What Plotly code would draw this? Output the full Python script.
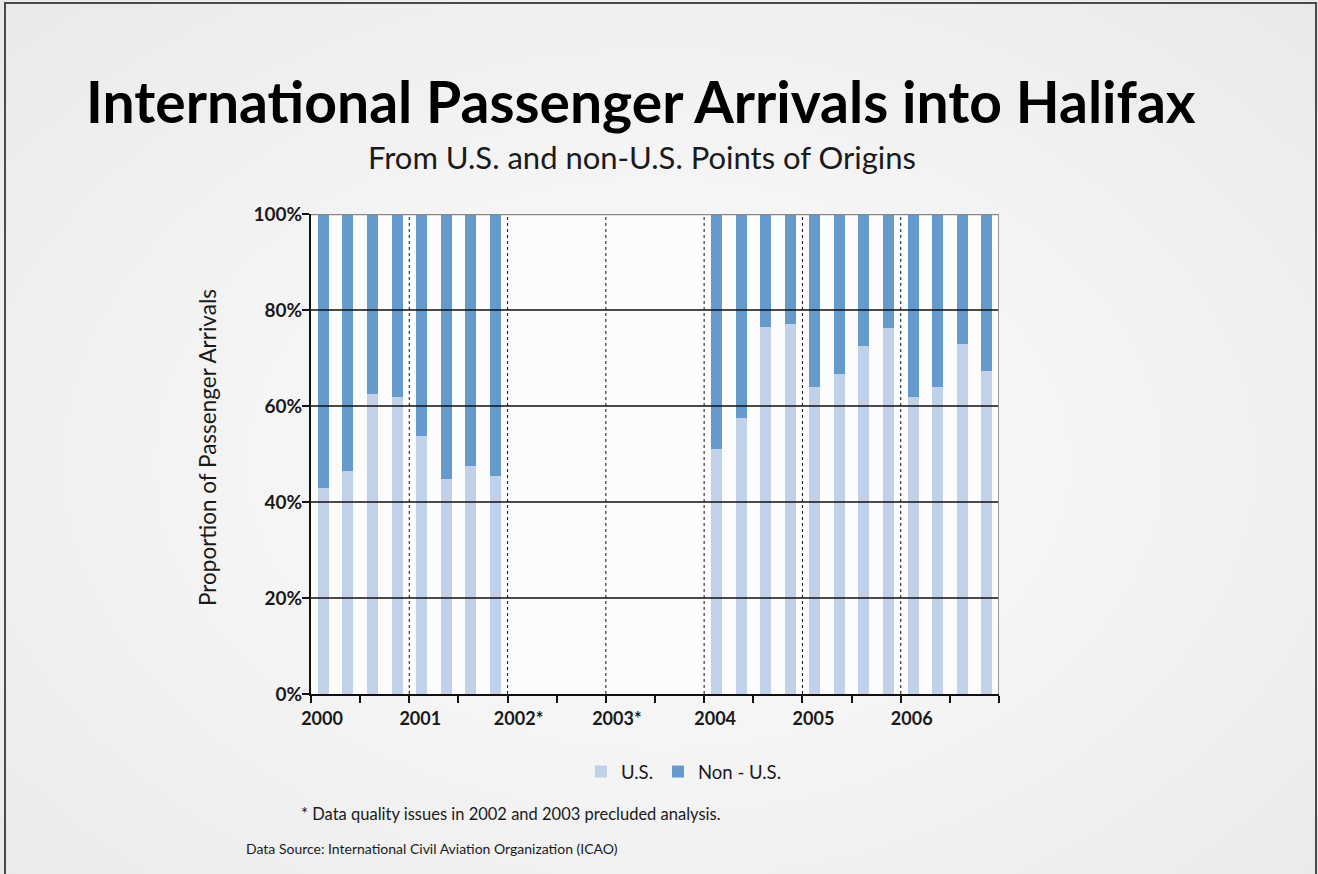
import plotly.graph_objects as go

# Quarterly share of international arrivals into Halifax (percent)
years = [2000, 2001, 2004, 2005, 2006]
quarters = [1, 2, 3, 4]
us_share = [
    [43.0, 46.5, 62.5, 61.9],   # 2000
    [53.7, 44.8, 47.5, 45.4],   # 2001
    [51.1, 57.6, 76.4, 77.0],   # 2004
    [63.9, 66.6, 72.5, 76.2],   # 2005
    [61.8, 63.9, 72.9, 67.2],   # 2006
]
tick_years = [2000, 2001, 2002, 2003, 2004, 2005, 2006, 2007]
tick_labels = ["2000", "2001", "2002*", "2003*", "2004", "2005", "2006", ""]
pct_ticks = [0, 20, 40, 60, 80, 100]

# place each quarter in the middle of its slice of the year
x_pos, us_vals, non_us_vals = [], [], []
for yr, row in zip(years, us_share):
    for q, v in zip(quarters, row):
        x_pos.append(yr + (q - 0.5) / 4)
        us_vals.append(v)
        non_us_vals.append(100 - v)

US_COLOR = "#c1d1ea"
NON_US_COLOR = "#6699cc"
FONT = "Lato"
W, H = 1318, 874

fig = go.Figure()
fig.add_trace(go.Bar(x=x_pos, y=us_vals, name="U.S.", marker_color=US_COLOR,
                     marker_line_width=0, width=0.112))
fig.add_trace(go.Bar(x=x_pos, y=non_us_vals, name="Non - U.S.", marker_color=NON_US_COLOR,
                     marker_line_width=0, width=0.112))

shapes = []
# soft radial lightening of the page background
n_rings = 14
for i in range(n_rings):
    r = 0.70 - i * 0.035
    cx, cy = 0.5, 0.47
    shapes.append(dict(type="circle", xref="paper", yref="paper",
                       x0=cx - r, x1=cx + r, y0=cy - r * 1.05, y1=cy + r * 1.05,
                       fillcolor="rgba(255,255,255,0.09)", line_width=0, layer="below"))
# page frame
shapes.append(dict(type="rect", xref="paper", yref="paper",
                   x0=5 / W, x1=1316 / W, y0=-0.05, y1=1 - 3 / H,
                   line=dict(color="#4a4a4a", width=2), fillcolor="rgba(0,0,0,0)", layer="above"))
# horizontal gridlines over the bars
for v in pct_ticks[1:-1]:
    shapes.append(dict(type="line", xref="x domain", yref="y", x0=0, x1=1, y0=v, y1=v,
                       line=dict(color="#111111", width=1.6), layer="above"))
# dotted year separators
for yr in tick_years[1:-1]:
    shapes.append(dict(type="line", xref="x", yref="y domain", x0=yr, x1=yr, y0=0, y1=1,
                       line=dict(color="#111111", width=1, dash="dot"), layer="above"))
# grey top and right frame of the plot area
shapes.append(dict(type="line", xref="x domain", yref="y", x0=0, x1=1, y0=100, y1=100,
                   line=dict(color="#888888", width=2.5), layer="above"))
shapes.append(dict(type="line", xref="x", yref="y domain", x0=2007, x1=2007, y0=0, y1=1,
                   line=dict(color="#999999", width=2), layer="above"))

annotations = [
    dict(text="<b>International Passenger Arrivals into Halifax</b>", xref="paper", yref="paper",
         x=641 / W, y=1 - 101 / H, xanchor="center", yanchor="middle", showarrow=False,
         font=dict(family=FONT, size=57, color="#000000")),
    dict(text="From U.S. and non-U.S. Points of Origins", xref="paper", yref="paper",
         x=642 / W, y=1 - 157 / H, xanchor="center", yanchor="middle", showarrow=False,
         font=dict(family=FONT, size=31, color="#1a1a1a")),
    dict(text="Proportion of Passenger Arrivals", xref="paper", yref="paper", textangle=-90,
         x=207 / W, y=1 - 448 / H, xanchor="center", yanchor="middle", showarrow=False,
         font=dict(family=FONT, size=22.5, color="#1a1a1a")),
    dict(text="* Data quality issues in 2002 and 2003 precluded analysis.", xref="paper", yref="paper",
         x=511 / W, y=1 - 814 / H, xanchor="center", yanchor="middle", showarrow=False,
         font=dict(family=FONT, size=16.5, color="#1a1a1a")),
    dict(text="Data Source: International Civil Aviation Organization (ICAO)", xref="paper", yref="paper",
         x=244 / W, y=1 - 848 / H, xanchor="left", yanchor="middle", showarrow=False,
         font=dict(family=FONT, size=14, color="#1a1a1a")),
]

fig.update_layout(
    width=W, height=H,
    margin=dict(l=0, r=0, t=0, b=0, pad=0, autoexpand=False),
    paper_bgcolor="#e8e8ea",
    plot_bgcolor="rgba(255,255,255,0.85)",
    barmode="stack",
    bargap=0,
    font=dict(family=FONT, color="#1a1a1a"),
    shapes=shapes,
    annotations=annotations,
    showlegend=True,
    legend=dict(orientation="h", x=684 / W, y=1 - 772 / H, xanchor="center", yanchor="middle",
                bgcolor="rgba(0,0,0,0)", font=dict(family=FONT, size=18.5, color="#1a1a1a"),
                traceorder="normal"),
    xaxis=dict(
        domain=[311 / W, 999 / W], range=[2000, 2007], automargin=False,
        tickvals=tick_years, ticktext=tick_labels, ticklabelshift=11,
        ticks="outside", ticklen=7, tickwidth=1.5, tickcolor="#111111",
        minor=dict(tick0=2000, dtick=0.5, ticks="outside", ticklen=7, tickwidth=1.5,
                   tickcolor="#111111", showgrid=False),
        showline=True, linecolor="#111111", linewidth=2,
        showgrid=False, zeroline=False, fixedrange=True,
        tickfont=dict(family=FONT, size=18, color="#1a1a1a", weight="bold"),
    ),
    yaxis=dict(
        domain=[1 - 694 / H, 1 - 214 / H], range=[0, 100], automargin=False,
        tickvals=pct_ticks, ticktext=[f"{v}%" for v in pct_ticks], ticklabelstandoff=-4,
        ticks="outside", ticklen=7, tickwidth=1.5, tickcolor="#111111",
        showline=True, linecolor="#111111", linewidth=2,
        showgrid=False, zeroline=False, fixedrange=True,
        tickfont=dict(family=FONT, size=19, color="#1a1a1a", weight="bold"),
    ),
)

fig.write_html(
    "out.html",
    post_script="document.body.style.margin='0';document.body.style.overflow='hidden';",
)
